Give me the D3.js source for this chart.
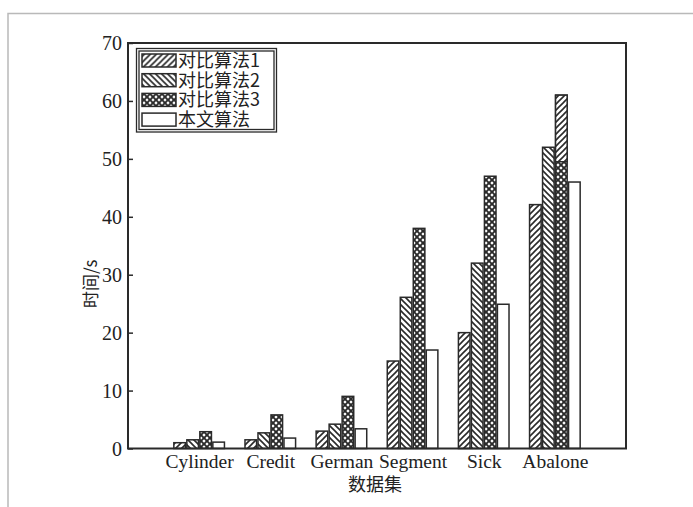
<!DOCTYPE html>
<html>
<head>
<meta charset="utf-8">
<script src="https://cdn.jsdelivr.net/npm/d3@7"></script>
<style>
  html, body { margin: 0; padding: 0; background: #fff; }
  svg { display: block; }
  .serif { font-family: "Liberation Serif", "Times New Roman", Times, "DejaVu Serif", serif; }
  .cjk { font-family: "Noto Sans CJK SC", "Noto Sans CJK JP", sans-serif; }
</style>
</head>
<body>
<svg id="chart" width="693" height="507"></svg>
<script>
// Running time of each algorithm on six datasets
const categories = ["Cylinder", "Credit", "German", "Segment", "Sick", "Abalone"];
const seriesNames = ["对比算法1", "对比算法2", "对比算法3", "本文算法"];
const algo1 = [1.0, 1.5, 3.0, 15.1, 20.0, 42.1];
const algo2 = [1.5, 2.7, 4.2, 26.1, 32.0, 52.0];
const algo3 = [2.9, 5.8, 9.0, 38.0, 47.0, 61.0];
const ours  = [1.1, 1.8, 3.4, 17.0, 24.9, 46.0];
const yTicks = [0, 10, 20, 30, 40, 50, 60, 70];
// upper part of the Abalone 对比算法3 bar is printed with the 对比算法1 hatch
const overdrawn = [{ category: "Abalone", series: 2, from: 49.5, to: 61.0, asSeries: 0 }];

const seriesValues = [algo1, algo2, algo3, ours];

const svg = d3.select("#chart");
const ink = "#2a2a2a";

// outer page rule
svg.append("path")
  .attr("d", "M8,507 L8,13.5 L693,13.5")
  .attr("fill", "none").attr("stroke", "#b9b9b9").attr("stroke-width", 1.5);

const plot = { left: 128, right: 626, top: 43, bottom: 448.5 };

const x = d3.scaleLinear().domain([0, categories.length + 1]).range([plot.left, plot.right]);
const y = d3.scaleLinear().domain([0, 70]).range([plot.bottom, plot.top]);

// hatch patterns
const defs = svg.append("defs");
const P = 6;
function hatch(id, dirs, sw) {
  const p = defs.append("pattern").attr("id", id)
    .attr("patternUnits", "userSpaceOnUse").attr("width", P).attr("height", P);
  p.append("rect").attr("width", P).attr("height", P).attr("fill", "#fff");
  dirs.forEach(dir => {
    const d = dir > 0
      ? `M-1,${P + 1} L${P + 1},-1 M-1,1 L1,-1 M${P - 1},${P + 1} L${P + 1},${P - 1}`
      : `M-1,-1 L${P + 1},${P + 1} M${P - 1},-1 L${P + 1},1 M-1,${P - 1} L1,${P + 1}`;
    p.append("path").attr("d", d).attr("stroke", ink).attr("stroke-width", sw).attr("fill", "none");
  });
}
hatch("h-fwd", [1], 1.6);
hatch("h-bwd", [-1], 1.6);
hatch("h-cross", [1, -1], 1.9);
const fills = ["url(#h-fwd)", "url(#h-bwd)", "url(#h-cross)", "#fff"];

// bar geometry inside each group (in category units)
const unitPx = (plot.right - plot.left) / (categories.length + 1);
const stepU = 13 / unitPx;
const barU = 11.6 / unitPx;
const offsetU = s => (s - 1.5) * stepU;

const bars = [];
seriesValues.forEach((vals, s) => {
  vals.forEach((v, i) => bars.push({ s, i, v }));
});

svg.append("g").selectAll("rect").data(bars).join("rect")
  .attr("x", d => x(d.i + 1 + offsetU(d.s) - barU / 2))
  .attr("width", d => x(barU) - x(0))
  .attr("y", d => y(d.v))
  .attr("height", d => y(0) - y(d.v))
  .attr("fill", d => fills[d.s])
  .attr("stroke", ink).attr("stroke-width", 1.5);

svg.append("g").selectAll("rect").data(overdrawn).join("rect")
  .attr("x", d => x(categories.indexOf(d.category) + 1 + offsetU(d.series) - barU / 2))
  .attr("width", d => x(barU) - x(0))
  .attr("y", d => y(d.to))
  .attr("height", d => y(d.from) - y(d.to))
  .attr("fill", d => fills[d.asSeries])
  .attr("stroke", ink).attr("stroke-width", 1.5);

// frame
svg.append("rect")
  .attr("x", plot.left).attr("y", plot.top)
  .attr("width", plot.right - plot.left).attr("height", plot.bottom - plot.top)
  .attr("fill", "none").attr("stroke", ink).attr("stroke-width", 2);

// y axis with inward ticks
const yAxis = d3.axisLeft(y).tickValues(yTicks).tickSize(-5).tickPadding(6).tickFormat(d3.format("d"));
const gy = svg.append("g").attr("transform", `translate(${plot.left},0)`).call(yAxis)
  .attr("font-family", null).attr("font-size", null);
gy.select(".domain").remove();
gy.selectAll(".tick line").attr("stroke", ink).attr("stroke-width", 1.5);
gy.selectAll(".tick text")
  .attr("class", "serif").attr("font-size", 20).attr("fill", "#222")
  .attr("dy", "0.34em");

// x axis labels (no ticks)
const xAxis = d3.axisBottom(x).tickValues(categories.map((c, i) => i + 1))
  .tickSize(0).tickPadding(6).tickFormat((d) => categories[d - 1]);
const gx = svg.append("g").attr("transform", `translate(0,${plot.bottom})`).call(xAxis)
  .attr("font-family", null).attr("font-size", null);
gx.select(".domain").remove();
gx.selectAll(".tick text")
  .attr("class", "serif").attr("font-size", 19.5).attr("fill", "#222");

// axis titles
svg.append("text")
  .attr("class", "cjk")
  .attr("transform", `translate(97,${(plot.top + plot.bottom) / 2 + 38}) rotate(-90)`)
  .attr("text-anchor", "middle")
  .attr("font-size", 17).attr("fill", "#222")
  .text("时间/s");
svg.append("text")
  .attr("class", "cjk")
  .attr("x", x(3.5) - 2).attr("y", 491)
  .attr("text-anchor", "middle")
  .attr("font-size", 18).attr("fill", "#222")
  .text("数据集");

// legend
const lg = svg.append("g");
lg.append("rect").attr("x", 136.5).attr("y", 48.5).attr("width", 140).attr("height", 83.5)
  .attr("fill", "#fff").attr("stroke", ink).attr("stroke-width", 1.3);
lg.append("rect").attr("x", 139).attr("y", 51).attr("width", 135).attr("height", 78.5)
  .attr("fill", "none").attr("stroke", ink).attr("stroke-width", 1.3);
const rows = lg.selectAll("g.row").data(seriesNames).join("g").attr("class", "row")
  .attr("transform", (d, k) => `translate(0,${60.5 + k * 19.7})`);
rows.append("rect").attr("x", 142).attr("y", -6.5).attr("width", 34).attr("height", 13)
  .attr("fill", (d, k) => fills[k]).attr("stroke", ink).attr("stroke-width", 1.5);
rows.append("text").attr("class", "cjk").attr("x", 178).attr("y", 0).attr("dy", "0.36em")
  .attr("font-size", 18).attr("fill", "#222")
  .text(d => d);
</script>
</body>
</html>
